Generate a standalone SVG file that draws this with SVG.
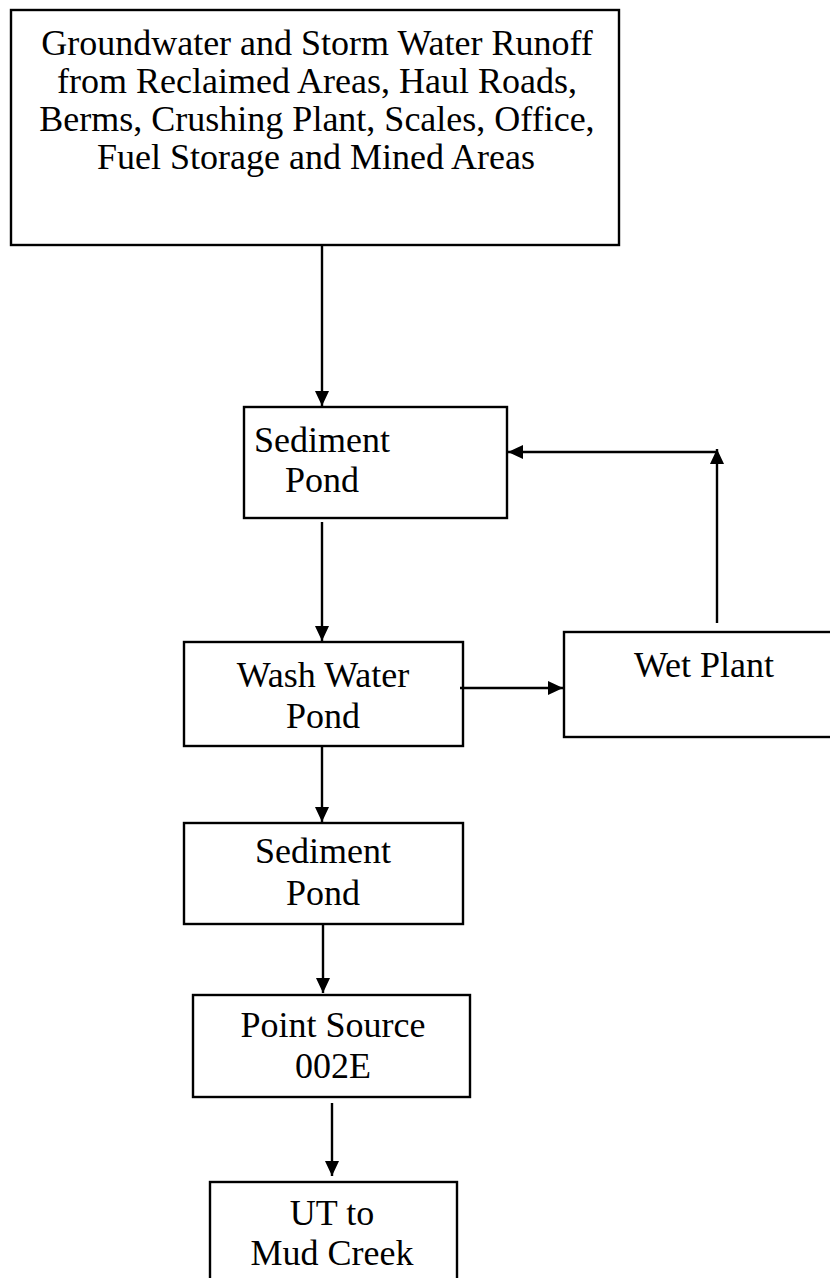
<svg xmlns="http://www.w3.org/2000/svg" width="830" height="1278" viewBox="0 0 830 1278">
<style>
.box{fill:#fff;stroke:#000;stroke-width:2.4}
.t{font-family:"Liberation Serif","Times New Roman",serif;font-size:36px;fill:#000;text-anchor:middle}
.c{fill:none;stroke:#000;stroke-width:2.4}
</style>
<defs>
<marker id="ah" viewBox="0 0 15 14" refX="15" refY="7" markerWidth="15" markerHeight="14" markerUnits="userSpaceOnUse" orient="auto">
<path d="M0,0 L15,7 L0,14 Z" fill="#000"/>
</marker>
</defs>
<rect width="830" height="1278" fill="#fff"/>
<g id="n-source">
<rect class="box" x="11" y="10" width="608" height="235"/>
<text class="t" x="317" y="55">Groundwater and Storm Water Runoff</text>
<text class="t" x="317" y="93">from Reclaimed Areas, Haul Roads,</text>
<text class="t" x="317" y="131">Berms, Crushing Plant, Scales, Office,</text>
<text class="t" x="316" y="169">Fuel Storage and Mined Areas</text>
</g>
<g id="n-sed1">
<rect class="box" x="244" y="407" width="263" height="111"/>
<text class="t" x="322" y="452">Sediment</text>
<text class="t" x="322" y="492">Pond</text>
</g>
<g id="n-wash">
<rect class="box" x="184" y="642" width="279" height="104"/>
<text class="t" x="323" y="687">Wash Water</text>
<text class="t" x="323" y="728">Pond</text>
</g>
<g id="n-wet">
<rect class="box" x="564" y="632" width="280" height="105"/>
<text class="t" x="704" y="677">Wet Plant</text>
</g>
<g id="n-sed2">
<rect class="box" x="184" y="823" width="279" height="101"/>
<text class="t" x="323" y="863">Sediment</text>
<text class="t" x="323" y="905">Pond</text>
</g>
<g id="n-ps">
<rect class="box" x="193" y="995" width="277" height="102"/>
<text class="t" x="333" y="1037">Point Source</text>
<text class="t" x="333" y="1078">002E</text>
</g>
<g id="n-ut">
<rect class="box" x="210" y="1182" width="247" height="110"/>
<text class="t" x="332" y="1225">UT to</text>
<text class="t" x="332" y="1265">Mud Creek</text>
</g>
<g id="connectors">
<line class="c" x1="322" y1="245" x2="322" y2="406" marker-end="url(#ah)"/>
<line class="c" x1="322" y1="522" x2="322" y2="641" marker-end="url(#ah)"/>
<line class="c" x1="460" y1="688" x2="563" y2="688" marker-end="url(#ah)"/>
<line class="c" x1="717" y1="623" x2="717" y2="449" marker-end="url(#ah)"/>
<line class="c" x1="717" y1="452" x2="508" y2="452" marker-end="url(#ah)"/>
<line class="c" x1="322" y1="746" x2="322" y2="822" marker-end="url(#ah)"/>
<line class="c" x1="323" y1="924" x2="323" y2="993" marker-end="url(#ah)"/>
<line class="c" x1="332" y1="1103" x2="332" y2="1176" marker-end="url(#ah)"/>
</g>
</svg>
